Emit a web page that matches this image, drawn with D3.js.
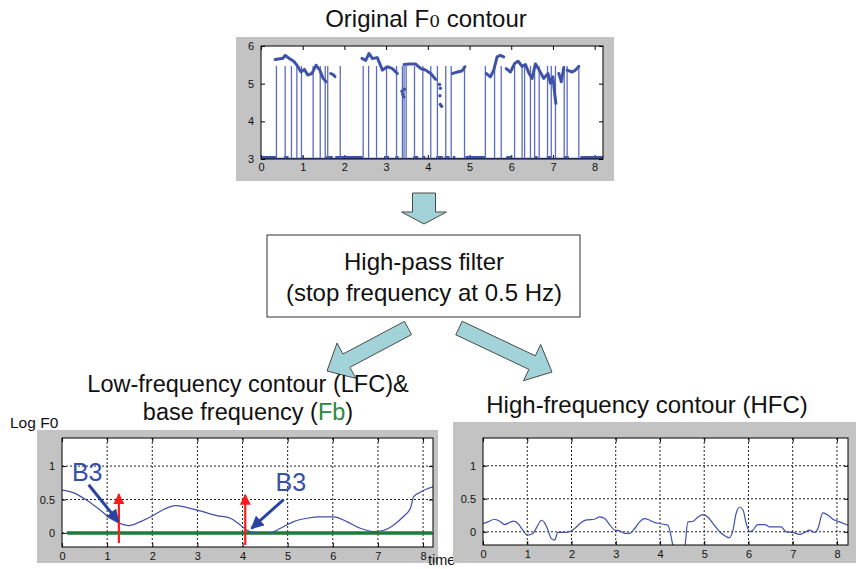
<!DOCTYPE html>
<html>
<head>
<meta charset="utf-8">
<script src="https://cdn.jsdelivr.net/npm/d3@7"></script>
<style>
  body { margin: 0; background: #fff; }
  text { font-family: "Liberation Sans", Arial, sans-serif; }
</style>
</head>
<body>
<svg id="fig" width="856" height="569"></svg>
<script>
// ---- data ----
// original F0 contour (log F0, unvoiced frames set to 3)
const f0Stems = [0.37, 0.58, 0.73, 0.86, 0.97, 1.25, 1.42, 1.54, 1.6, 1.9,
  2.45, 2.58, 2.77, 3.01, 3.25, 3.39, 3.43, 3.48, 3.68, 3.88, 4.07, 4.23, 4.43,
  4.56, 4.88, 5.38, 5.6, 5.76, 6.08, 6.26, 6.32, 6.46, 6.56, 6.67, 6.87, 6.96,
  7.06, 7.27, 7.34, 7.62];
const stemTop = 5.47;
const f0Voiced = [
  [[0.34, 5.64], [0.45, 5.66], [0.52, 5.67], [0.58, 5.75], [0.68, 5.67], [0.8, 5.58],
   [0.88, 5.46], [0.96, 5.31], [1.04, 5.38], [1.12, 5.23], [1.22, 5.27], [1.32, 5.49],
   [1.41, 5.36], [1.49, 5.14], [1.56, 5.05]],
  [[1.67, 5.27], [1.73, 5.24], [1.79, 5.17]],
  [[2.42, 5.67], [2.51, 5.62], [2.59, 5.8], [2.67, 5.67], [2.79, 5.69], [2.91, 5.36],
   [3.03, 5.45], [3.15, 5.4], [3.27, 5.27]],
  [[3.43, 5.51], [3.55, 5.52], [3.71, 5.52], [3.83, 5.4], [3.95, 5.36], [4.07, 5.27],
   [4.19, 5.11]],
  [[4.59, 5.27], [4.71, 5.31], [4.82, 5.34], [4.89, 5.45]],
  [[5.4, 5.27], [5.5, 5.18], [5.58, 5.36], [5.66, 5.71], [5.74, 5.75], [5.82, 5.71]],
  [[5.88, 5.4], [5.98, 5.31], [6.08, 5.53], [6.16, 5.6], [6.26, 5.46], [6.34, 5.51],
   [6.42, 5.29], [6.5, 5.14], [6.58, 5.53], [6.67, 5.36], [6.78, 5.14], [6.88, 5.27],
   [6.94, 5.01], [7.0, 5.18], [7.04, 4.74], [7.07, 4.48]],
  [[7.14, 5.27], [7.2, 5.05], [7.26, 5.43]],
  [[7.34, 5.36], [7.46, 5.31], [7.54, 5.36], [7.62, 5.46]]
];
const f0Outliers = [[3.38, 4.8], [3.4, 4.72], [3.42, 4.65], [3.44, 4.85],
  [4.28, 4.98], [4.3, 4.88], [4.29, 4.68], [4.3, 4.45], [4.33, 4.4]];
const unvoiced = [[0, 0.37], [0.55, 0.66], [0.96, 1.02], [1.55, 1.72], [1.78, 2.44],
  [2.95, 3.07], [3.22, 3.3], [3.65, 3.77], [3.86, 3.94], [4.2, 4.36], [4.4, 4.52],
  [4.6, 4.66], [4.9, 5.38], [5.88, 6.0], [6.55, 6.63], [6.85, 6.96], [7.26, 7.38],
  [7.66, 8.2]];

// low-frequency contour
const lfc = [[0, 0.64], [0.26, 0.6], [0.55, 0.49], [0.85, 0.34], [1.07, 0.22],
  [1.26, 0.15], [1.48, 0.11], [1.74, 0.17], [1.99, 0.25], [2.25, 0.35], [2.51, 0.41],
  [2.77, 0.38], [3.06, 0.33], [3.43, 0.26], [3.73, 0.22], [3.95, 0.12], [4.1, 0.04],
  [4.25, 0.0], [4.54, -0.01], [4.84, 0.07], [5.13, 0.17], [5.43, 0.22], [5.72, 0.24],
  [6.02, 0.24], [6.31, 0.17], [6.61, 0.07], [6.9, 0.02], [7.13, 0.04], [7.35, 0.12],
  [7.57, 0.25], [7.72, 0.37], [7.79, 0.54], [7.94, 0.61], [8.23, 0.69]];
const fbLevel = 0;
const fbRange = [0.11, 8.2];
const redArrows = [[1.26, -0.15, 0.58], [4.06, -0.18, 0.57]];
const b3Labels = [
  { text: "B3", at: [0.22, 0.77], from: [0.59, 0.72], to: [1.25, 0.17] },
  { text: "B3", at: [4.73, 0.62], from: [4.91, 0.5], to: [4.2, 0.07] }
];

// high-frequency contour
const hfc = [[0, 0.125], [0.11, 0.15], [0.26, 0.19], [0.38, 0.16], [0.49, 0.11],
  [0.6, 0.14], [0.68, 0.16], [0.79, 0.125], [0.9, 0.025], [1.0, -0.05], [1.13, -0.025],
  [1.22, 0.075], [1.32, 0.175], [1.39, 0.14], [1.47, 0.025], [1.54, -0.1], [1.62, -0.125],
  [1.69, -0.01], [1.85, -0.01], [1.96, 0], [2.07, 0.05], [2.22, 0.14], [2.34, 0.18],
  [2.52, 0.19], [2.64, 0.225], [2.75, 0.2], [2.86, 0.11], [2.98, 0.025], [3.09, 0.015],
  [3.2, -0.025], [3.31, -0.025], [3.43, 0.05], [3.54, 0.15], [3.65, 0.2], [3.77, 0.175],
  [3.88, 0.14], [3.99, 0.125], [4.11, 0.11], [4.18, 0.1], [4.26, -0.1], [4.33, -0.35],
  [4.45, -0.45], [4.56, -0.25], [4.63, 0.15], [4.75, 0.16], [4.86, 0.225], [4.97, 0.26],
  [5.08, 0.225], [5.2, 0.125], [5.35, 0], [5.5, -0.075], [5.57, -0.09], [5.65, 0.025],
  [5.72, 0.275], [5.8, 0.375], [5.88, 0.325], [5.95, 0.125], [6.03, 0], [6.1, 0.025],
  [6.21, 0.11], [6.37, 0.11], [6.48, 0.075], [6.63, 0.075], [6.74, 0.075], [6.85, 0],
  [7.0, -0.01], [7.16, -0.04], [7.27, -0.01], [7.38, 0.025], [7.5, -0.01], [7.57, 0.05],
  [7.68, 0.285], [7.8, 0.25], [7.91, 0.19], [8.06, 0.15], [8.25, 0.1]];

const timeTicks = [0, 1, 2, 3, 4, 5, 6, 7, 8];
const f0Ticks = [3, 4, 5, 6];
const contourTicks = [0, 0.5, 1];

// ---- drawing ----
const svg = d3.select("#fig");
const blue = "#3d52a8";
const frameGray = "#c3c3c3";
const arrowFill = "#a2d3d8";
const bigFont = 24;

const defs = svg.append("defs");
function marker(id, color, size) {
  defs.append("marker")
    .attr("id", id)
    .attr("viewBox", "0 0 10 10")
    .attr("refX", 9).attr("refY", 5)
    .attr("markerWidth", size).attr("markerHeight", size)
    .attr("markerUnits", "userSpaceOnUse")
    .attr("orient", "auto")
    .append("path").attr("d", "M0,0 L10,5 L0,10 Z").attr("fill", color);
}
marker("redHead", "#ff1a1a", 11);
marker("blueHead", "#2b44a0", 13);

function panel(id, frame, box, xDomain, yDomain, yTicks, grid, pad) {
  svg.append("rect")
    .attr("x", frame[0]).attr("y", frame[1])
    .attr("width", frame[2] - frame[0]).attr("height", frame[3] - frame[1])
    .attr("fill", frameGray);
  svg.append("rect")
    .attr("x", box[0]).attr("y", box[1])
    .attr("width", box[2] - box[0]).attr("height", box[3] - box[1])
    .attr("fill", "#fff");
  defs.append("clipPath").attr("id", id)
    .append("rect")
    .attr("x", box[0]).attr("y", box[1])
    .attr("width", box[2] - box[0]).attr("height", box[3] - box[1]);

  const x = d3.scaleLinear().domain(xDomain).range([box[0], box[2]]);
  const y = d3.scaleLinear().domain(yDomain).range([box[3], box[1]]);

  if (grid) {
    const gg = svg.append("g")
      .attr("stroke", "#222").attr("stroke-width", 1)
      .attr("stroke-dasharray", "2,2");
    gg.selectAll(".gx").data(timeTicks.filter(d => d > 0)).join("line")
      .attr("x1", d => x(d)).attr("x2", d => x(d))
      .attr("y1", box[1]).attr("y2", box[3]);
    gg.selectAll(".gy").data(yTicks).join("line")
      .attr("x1", box[0]).attr("x2", box[2])
      .attr("y1", d => y(d)).attr("y2", d => y(d));
  }

  const axisStyle = g => {
    g.selectAll("text")
      .attr("font-size", 11)
      .attr("fill", "#111")
      .style("font-family", "'Liberation Sans', Arial, sans-serif");
    g.select(".domain").remove();
    g.selectAll(".tick line").attr("stroke", "#000");
  };
  svg.append("g").attr("transform", `translate(0,${box[3]})`)
    .call(d3.axisBottom(x).tickValues(timeTicks).tickFormat(d => String(d))
      .tickSizeInner(-4).tickSizeOuter(0).tickPadding(pad))
    .call(axisStyle);
  svg.append("g").attr("transform", `translate(0,${box[1]})`)
    .call(d3.axisTop(x).tickValues(timeTicks).tickFormat("")
      .tickSizeInner(-4).tickSizeOuter(0))
    .call(axisStyle);
  svg.append("g").attr("transform", `translate(${box[0]},0)`)
    .call(d3.axisLeft(y).tickValues(yTicks).tickFormat(d => String(d))
      .tickSizeInner(-4).tickSizeOuter(0).tickPadding(7))
    .call(axisStyle);
  svg.append("g").attr("transform", `translate(${box[2]},0)`)
    .call(d3.axisRight(y).tickValues(yTicks).tickFormat("")
      .tickSizeInner(-4).tickSizeOuter(0))
    .call(axisStyle);

  const plot = svg.append("g").attr("clip-path", `url(#${id})`);
  return { x, y, plot, box };
}

function outline(p) {
  svg.append("rect")
    .attr("x", p.box[0]).attr("y", p.box[1])
    .attr("width", p.box[2] - p.box[0]).attr("height", p.box[3] - p.box[1])
    .attr("fill", "none").attr("stroke", "#000").attr("stroke-width", 1);
}

// ---- top: original F0 ----
const topP = panel("clipTop", [236, 37, 614, 181], [261, 46, 603, 159],
  [0, 8.2], [3, 6], f0Ticks, false, 4);
topP.plot.append("line")
  .attr("x1", topP.x(0)).attr("x2", topP.x(8.2))
  .attr("y1", topP.y(3)).attr("y2", topP.y(3))
  .attr("stroke", blue).attr("stroke-width", 2.5);
topP.plot.selectAll(".uv").data(unvoiced).join("line")
  .attr("x1", d => topP.x(d[0])).attr("x2", d => topP.x(d[1]))
  .attr("y1", topP.y(3)).attr("y2", topP.y(3))
  .attr("stroke", blue).attr("stroke-width", 6);
topP.plot.selectAll(".stem").data(f0Stems).join("line")
  .attr("x1", d => topP.x(d)).attr("x2", d => topP.x(d))
  .attr("y1", topP.y(3)).attr("y2", topP.y(stemTop))
  .attr("stroke", "#5a6cc0").attr("stroke-width", 1.3);
const f0Line = d3.line().x(d => topP.x(d[0])).y(d => topP.y(d[1])).curve(d3.curveLinear);
topP.plot.selectAll(".voiced").data(f0Voiced).join("path")
  .attr("d", f0Line)
  .attr("fill", "none").attr("stroke", blue)
  .attr("stroke-width", 3).attr("stroke-linecap", "round")
  .attr("stroke-linejoin", "round")
  .attr("stroke-dasharray", "2.2,1");
topP.plot.selectAll(".out").data(f0Outliers).join("circle")
  .attr("cx", d => topP.x(d[0])).attr("cy", d => topP.y(d[1]))
  .attr("r", 1.7).attr("fill", blue);
outline(topP);

svg.append("text").attr("x", 426).attr("y", 27).attr("text-anchor", "middle")
  .attr("font-size", bigFont).attr("fill", "#111")
  .call(t => {
    t.append("tspan").text("Original F");
    t.append("tspan").attr("font-size", 17).style("font-family", "'DejaVu Serif', serif").text("0");
    t.append("tspan").text(" contour");
  });

// ---- block arrows ----
function blockArrow(tail, tip, shaft, head, headLen) {
  const dx = tip[0] - tail[0], dy = tip[1] - tail[1];
  const len = Math.hypot(dx, dy);
  const ux = dx / len, uy = dy / len, nx = -uy, ny = ux;
  const b = [tip[0] - ux * headLen, tip[1] - uy * headLen];
  const pts = [
    [tail[0] + nx * shaft / 2, tail[1] + ny * shaft / 2],
    [b[0] + nx * shaft / 2, b[1] + ny * shaft / 2],
    [b[0] + nx * head / 2, b[1] + ny * head / 2],
    tip,
    [b[0] - nx * head / 2, b[1] - ny * head / 2],
    [b[0] - nx * shaft / 2, b[1] - ny * shaft / 2],
    [tail[0] - nx * shaft / 2, tail[1] - ny * shaft / 2]
  ];
  svg.append("polygon").attr("points", pts.map(p => p.join(",")).join(" "))
    .attr("fill", arrowFill).attr("stroke", "#4a4a4a").attr("stroke-width", 1);
}
blockArrow([424, 193], [424, 224], 23, 45, 12);
blockArrow([408, 328], [327, 371], 15, 40, 22);
blockArrow([459, 328], [552, 372], 15, 40, 22);

// filter box
svg.append("rect").attr("x", 267).attr("y", 235).attr("width", 313).attr("height", 82)
  .attr("fill", "#fff").attr("stroke", "#333").attr("stroke-width", 1);
svg.append("text").attr("x", 424).attr("y", 270).attr("text-anchor", "middle")
  .attr("font-size", bigFont).attr("fill", "#111").text("High-pass filter");
svg.append("text").attr("x", 424).attr("y", 301).attr("text-anchor", "middle")
  .attr("font-size", bigFont).attr("fill", "#111").text("(stop frequency at 0.5 Hz)");

// subtitles
svg.append("text").attr("x", 248).attr("y", 392).attr("text-anchor", "middle")
  .attr("font-size", 23.5).attr("fill", "#111").text("Low-frequency contour (LFC)&");
svg.append("text").attr("x", 248).attr("y", 420).attr("text-anchor", "middle")
  .attr("font-size", 23.5).attr("fill", "#111")
  .call(t => {
    t.append("tspan").text("base frequency (");
    t.append("tspan").attr("fill", "#2a8a3c").text("Fb");
    t.append("tspan").text(")");
  });
svg.append("text").attr("x", 647).attr("y", 413).attr("text-anchor", "middle")
  .attr("font-size", bigFont).attr("fill", "#111").text("High-frequency contour (HFC)");
svg.append("text").attr("x", 10).attr("y", 428)
  .attr("font-size", 15.5).attr("fill", "#111").text("Log F0");

// ---- bottom left: LFC & Fb ----
const leftP = panel("clipLeft", [37, 430, 438, 563], [62, 438, 433, 547],
  [0, 8.22], [-0.21, 1.42], contourTicks, true, 5);
const cLine = p => d3.line().x(d => p.x(d[0])).y(d => p.y(d[1])).curve(d3.curveMonotoneX);
leftP.plot.append("line")
  .attr("x1", leftP.x(fbRange[0])).attr("x2", leftP.x(fbRange[1]))
  .attr("y1", leftP.y(fbLevel)).attr("y2", leftP.y(fbLevel))
  .attr("stroke", "#1d7a38").attr("stroke-width", 3.5);
leftP.plot.append("path").datum(lfc).attr("d", cLine(leftP))
  .attr("fill", "none").attr("stroke", blue).attr("stroke-width", 1.2);
outline(leftP);
svg.selectAll(".red").data(redArrows).join("line")
  .attr("x1", d => leftP.x(d[0])).attr("x2", d => leftP.x(d[0]))
  .attr("y1", d => leftP.y(d[1])).attr("y2", d => leftP.y(d[2]))
  .attr("stroke", "#ff1a1a").attr("stroke-width", 2.2)
  .attr("marker-end", "url(#redHead)");
svg.selectAll(".b3arrow").data(b3Labels).join("line")
  .attr("x1", d => leftP.x(d.from[0])).attr("y1", d => leftP.y(d.from[1]))
  .attr("x2", d => leftP.x(d.to[0])).attr("y2", d => leftP.y(d.to[1]))
  .attr("stroke", "#2b44a0").attr("stroke-width", 3)
  .attr("marker-end", "url(#blueHead)");
svg.selectAll(".b3").data(b3Labels).join("text")
  .attr("x", d => leftP.x(d.at[0])).attr("y", d => leftP.y(d.at[1]))
  .attr("font-size", 25).attr("fill", "#3550a8").text(d => d.text);
svg.append("text").attr("x", 428).attr("y", 565)
  .attr("font-size", 14.5).attr("fill", "#111").text("time");

// ---- bottom right: HFC ----
const rightP = panel("clipRight", [453, 422, 856, 563], [483, 438, 848, 545],
  [0, 8.25], [-0.2, 1.42], contourTicks, true, 5);
rightP.plot.append("path").datum(hfc).attr("d", cLine(rightP))
  .attr("fill", "none").attr("stroke", blue).attr("stroke-width", 1.2);
outline(rightP);
</script>
</body>
</html>
